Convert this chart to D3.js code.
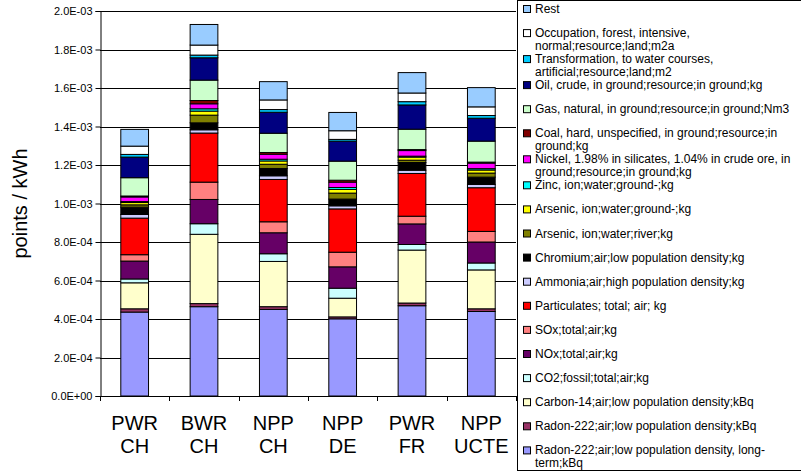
<!DOCTYPE html>
<html>
<head>
<meta charset="utf-8">
<title>points / kWh</title>
<script src="https://cdn.jsdelivr.net/npm/d3@7"></script>
<style>
  body { margin: 0; background: #fff; }
  svg { font-family: Arial, "Liberation Sans", sans-serif; }
</style>
</head>
<body>
<script>
// categories, two label lines each
var categories = ["PWR CH", "BWR CH", "NPP CH", "NPP DE", "PWR FR", "NPP UCTE"];

// series values in units of 1E-04 points/kWh, one per category (bottom of stack first)
var radonLongTerm  = [4.36, 4.64, 4.50, 4.01, 4.69, 4.39];
var radon          = [0.17, 0.16, 0.14, 0.10, 0.14, 0.14];
var carbon14       = [1.35, 3.60, 2.35, 0.97, 2.75, 2.02];
var co2            = [0.20, 0.55, 0.40, 0.52, 0.29, 0.36];
var nox            = [0.93, 1.26, 1.09, 1.11, 1.07, 1.09];
var sox            = [0.33, 0.90, 0.57, 0.76, 0.40, 0.55];
var particulates   = [1.90, 2.55, 2.20, 2.25, 2.22, 2.27];
var ammonia        = [0.19, 0.17, 0.19, 0.16, 0.17, 0.17];
var chromium       = [0.38, 0.36, 0.38, 0.35, 0.40, 0.38];
var arsenicRiver   = [0.12, 0.40, 0.22, 0.31, 0.12, 0.21];
var arsenicGround  = [0.12, 0.21, 0.17, 0.19, 0.16, 0.16];
var zinc           = [0.05, 0.12, 0.09, 0.10, 0.05, 0.07];
var nickel         = [0.24, 0.26, 0.26, 0.28, 0.29, 0.29];
var coal           = [0.05, 0.17, 0.09, 0.10, 0.05, 0.05];
var gas            = [0.95, 1.06, 1.00, 0.99, 1.06, 1.09];
var oil            = [1.07, 1.16, 1.09, 1.04, 1.26, 1.19];
var transformation = [0.14, 0.14, 0.14, 0.09, 0.17, 0.14];
var occupation     = [0.43, 0.52, 0.50, 0.45, 0.45, 0.45];
var rest           = [0.87, 1.07, 0.95, 0.95, 1.06, 1.00];

var series = [
  {name: "Radon-222;air;low population density, long-\nterm;kBq", color: "#9999FF", values: radonLongTerm},
  {name: "Radon-222;air;low population density;kBq", color: "#993366", values: radon},
  {name: "Carbon-14;air;low population density;kBq", color: "#FFFFCC", values: carbon14},
  {name: "CO2;fossil;total;air;kg", color: "#CCFFFF", values: co2},
  {name: "NOx;total;air;kg", color: "#660066", values: nox},
  {name: "SOx;total;air;kg", color: "#FF8080", values: sox},
  {name: "Particulates; total; air; kg", color: "#FF0000", values: particulates},
  {name: "Ammonia;air;high population density;kg", color: "#CCCCFF", values: ammonia},
  {name: "Chromium;air;low population density;kg", color: "#000000", values: chromium},
  {name: "Arsenic, ion;water;river;kg", color: "#808000", values: arsenicRiver},
  {name: "Arsenic, ion;water;ground-;kg", color: "#FFFF00", values: arsenicGround},
  {name: "Zinc, ion;water;ground-;kg", color: "#00FFFF", values: zinc},
  {name: "Nickel, 1.98% in silicates, 1.04% in crude ore, in\nground;resource;in ground;kg", color: "#FF00FF", values: nickel},
  {name: "Coal, hard, unspecified, in ground;resource;in\nground;kg", color: "#800000", values: coal},
  {name: "Gas, natural, in ground;resource;in ground;Nm3", color: "#CCFFCC", values: gas},
  {name: "Oil, crude, in ground;resource;in ground;kg", color: "#000080", values: oil},
  {name: "Transformation, to water courses,\nartificial;resource;land;m2", color: "#00CCFF", values: transformation},
  {name: "Occupation, forest, intensive,\nnormal;resource;land;m2a", color: "#FFFFFF", values: occupation},
  {name: "Rest", color: "#99CCFF", values: rest}
];

var yTicks = [0, 2e-4, 4e-4, 6e-4, 8e-4, 1e-3, 1.2e-3, 1.4e-3, 1.6e-3, 1.8e-3, 2e-3];

var width = 801, height = 472;
var plot = {left: 100, right: 516, top: 11, bottom: 396};

var svg = d3.select("body").append("svg")
  .attr("width", width)
  .attr("height", height);

var x = d3.scaleBand()
  .domain(categories)
  .range([plot.left, plot.right])
  .paddingInner(0.6)
  .paddingOuter(0.3);

var y = d3.scaleLinear()
  .domain([0, 2e-3])
  .range([plot.bottom, plot.top]);

function sci(d) {
  var p = d.toExponential(1).split("e");
  var e = +p[1];
  return p[0] + "E" + (e < 0 ? "-" : "+") + d3.format("02d")(Math.abs(e));
}

// gridlines
svg.append("g")
  .selectAll("line")
  .data(yTicks.slice(1))
  .enter().append("line")
  .attr("x1", plot.left).attr("x2", plot.right)
  .attr("y1", function(d) { return Math.round(y(d)) + 0.5; })
  .attr("y2", function(d) { return Math.round(y(d)) + 0.5; })
  .attr("stroke", "#000")
  .attr("stroke-width", 1);

// stacked bars
var table = categories.map(function(c, i) {
  var row = {cat: c};
  series.forEach(function(s, k) { row[k] = s.values[i] * 1e-4; });
  return row;
});
var stack = d3.stack().keys(series.map(function(s, k) { return k; }));
var layers = stack(table);

svg.append("g")
  .selectAll("g")
  .data(layers)
  .enter().append("g")
  .attr("fill", function(d) { return series[d.key].color; })
  .selectAll("rect")
  .data(function(d) { return d; })
  .enter().append("rect")
  .attr("x", function(d) { return x(d.data.cat); })
  .attr("width", x.bandwidth())
  .attr("y", function(d) { return y(d[1]); })
  .attr("height", function(d) { return y(d[0]) - y(d[1]); })
  .attr("stroke", "#000")
  .attr("stroke-width", 1);

// y axis
var yAxis = d3.axisLeft(y).tickValues(yTicks).tickFormat(sci).tickSizeOuter(0).tickSize(5).tickPadding(3);
var gy = svg.append("g")
  .attr("transform", "translate(" + (plot.left + 0.5) + ",0)")
  .call(yAxis);
gy.selectAll("text").attr("font-size", 11).attr("fill", "#000").attr("font-family", "Arial, 'Liberation Sans', sans-serif");
gy.selectAll("line, path").attr("stroke", "#000");

// x axis: ticks between categories
var step = x.step();
var xBase = svg.append("g");
xBase.append("line")
  .attr("x1", plot.left).attr("x2", plot.right)
  .attr("y1", plot.bottom + 0.5).attr("y2", plot.bottom + 0.5)
  .attr("stroke", "#000");
xBase.selectAll("line.tick")
  .data(d3.range(categories.length + 1))
  .enter().append("line")
  .attr("class", "tick")
  .attr("x1", function(i) { return Math.round(plot.left + i * step) + 0.5; })
  .attr("x2", function(i) { return Math.round(plot.left + i * step) + 0.5; })
  .attr("y1", plot.bottom).attr("y2", plot.bottom + 5)
  .attr("stroke", "#000");

var xl = svg.append("g").selectAll("text")
  .data(categories)
  .enter().append("text")
  .attr("x", function(d) { return x(d) + x.bandwidth() / 2; })
  .attr("y", 430)
  .attr("text-anchor", "middle")
  .attr("font-size", 20);
xl.append("tspan").attr("x", function(d) { return x(d) + x.bandwidth() / 2; }).text(function(d) { return d.split(" ")[0]; });
xl.append("tspan").attr("x", function(d) { return x(d) + x.bandwidth() / 2; }).attr("dy", 23).text(function(d) { return d.split(" ")[1]; });

// y label
svg.append("text")
  .attr("transform", "translate(27," + ((plot.top + plot.bottom) / 2) + ") rotate(-90)")
  .attr("text-anchor", "middle")
  .attr("font-size", 20)
  .text("points / kWh");

// legend
var legend = svg.append("g");
legend.append("rect")
  .attr("x", 517.5).attr("y", 0.5)
  .attr("width", 290).attr("height", 470)
  .attr("fill", "#fff").attr("stroke", "#000");

var entries = series.slice().reverse();
// wrapped entries take a little more room than single-line ones
var pos = [], cy = 9;
entries.forEach(function(d) {
  pos.push(cy);
  cy += d.name.indexOf("\n") >= 0 ? 26 : 24.1;
});

var item = legend.selectAll("g.item")
  .data(entries)
  .enter().append("g")
  .attr("class", "item")
  .attr("transform", function(d, i) { return "translate(0," + pos[i] + ")"; });
item.append("rect")
  .attr("x", 523.5).attr("y", -3.5)
  .attr("width", 7).attr("height", 7)
  .attr("fill", function(d) { return d.color; })
  .attr("stroke", "#000");
var lt = item.append("text")
  .attr("x", 535)
  .attr("y", 4)
  .attr("font-size", 12);
lt.selectAll("tspan")
  .data(function(d) { return d.name.split("\n"); })
  .enter().append("tspan")
  .attr("x", 535)
  .attr("dy", function(d, i) { return i ? 13 : 0; })
  .text(function(d) { return d; });
</script>
</body>
</html>
